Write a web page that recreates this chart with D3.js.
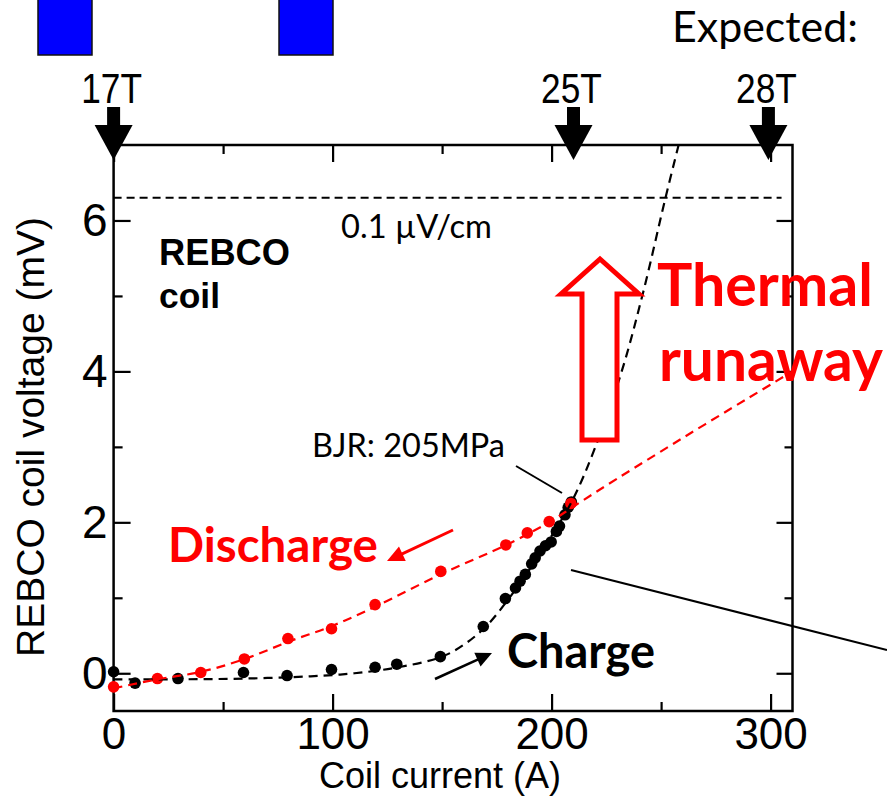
<!DOCTYPE html>
<html>
<head>
<meta charset="utf-8">
<script src="https://cdn.jsdelivr.net/npm/d3@7"></script>
<style>
  html, body { margin: 0; padding: 0; background: #fff; }
  svg { display: block; }
</style>
</head>
<body>
<svg id="chart" width="887" height="797"></svg>
<script>
// ---------------- DATA ----------------
const xMajorTicks = [0, 100, 200, 300];
const xMinorTicks = [50, 150, 250];
const yMajorTicks = [0, 2, 4, 6];
const yMinorTicks = [1, 3, 5];

// Charge (black) measured points
const chargeCurrent = [0, 9.8, 29.4, 59.3, 79.2, 99.5, 119.4, 129.3, 149.2, 168.8, 178.9, 183.5, 185.6, 188.0, 190.9, 192.5, 194.7, 197.2, 199.8, 202.2, 203.6, 206.1, 207.6, 209.0];
const chargeVoltage = [0.02, -0.13, -0.07, 0.01, -0.03, 0.05, 0.08, 0.12, 0.22, 0.62, 0.99, 1.13, 1.22, 1.31, 1.45, 1.53, 1.62, 1.69, 1.74, 1.88, 1.95, 2.10, 2.20, 2.27];

// Discharge (red) measured points
const dischargeCurrent = [0, 20, 39.8, 59.7, 79.6, 99.5, 119.4, 149.4, 179.1, 188.9, 198.9, 208.8];
const dischargeVoltage = [-0.18, -0.07, 0.01, 0.19, 0.46, 0.59, 0.91, 1.35, 1.70, 1.86, 2.01, 2.25];

// Dashed fit curves
const chargeFitCurrent = [0, 30, 60, 90, 110, 130, 150, 160, 170, 180, 190, 200, 210, 220, 232, 242, 252, 258];
const chargeFitVoltage = [-0.08, -0.08, -0.07, -0.04, 0.0, 0.08, 0.22, 0.38, 0.62, 0.97, 1.38, 1.82, 2.32, 3.0, 4.0, 5.07, 6.3, 7.0];
const dischargeFitCurrent = [0, 20, 40, 60, 80, 100, 120, 150, 180, 200, 210, 230, 260, 290, 310];
const dischargeFitVoltage = [-0.2, -0.08, 0.02, 0.19, 0.42, 0.63, 0.89, 1.32, 1.71, 2.02, 2.21, 2.58, 3.12, 3.65, 4.0];

// Criterion line
const criterionVoltage = 6.3;
const criterionRange = [0, 305];

// Field markers on top axis
const fieldLabels = ["17T", "25T", "28T"];
const fieldCurrents = [0, 210, 299];

// ---------------- LAYOUT ----------------
const svg = d3.select("#chart");
const W = 887, H = 797;
const plot = {left: 113.6, right: 792.5, top: 145, bottom: 711};

svg.append("rect").attr("width", W).attr("height", H).attr("fill", "#fff");

const x = d3.scaleLinear().domain([0, 310]).range([plot.left, plot.right]);
const y = d3.scaleLinear().domain([-0.5, 7]).range([plot.bottom, plot.top]);

const ARIAL = "'Liberation Sans', Arial, Helvetica, sans-serif";
const CAL = "Lato, 'Open Sans', sans-serif";

// Clip
svg.append("defs").append("clipPath").attr("id", "plotclip")
  .append("rect").attr("x", plot.left).attr("y", plot.top)
  .attr("width", plot.right - plot.left).attr("height", plot.bottom - plot.top);

// Blue blocks at top (partial figure above)
[38, 279].forEach(bx => {
  svg.append("rect").attr("x", bx).attr("y", -3).attr("width", 54).attr("height", 58)
    .attr("fill", "#0000FF").attr("stroke", "#111").attr("stroke-width", 1.5);
});

// ---------------- AXES ----------------
function styleAxis(g, fontSize) {
  g.select(".domain").remove();
  g.selectAll(".tick line").attr("stroke", "#000").attr("stroke-width", 2.2);
  g.selectAll(".tick text").attr("font-family", ARIAL).attr("font-size", fontSize).attr("fill", "#000");
}

// bottom major
svg.append("g").attr("transform", `translate(0,${plot.bottom})`)
  .call(d3.axisBottom(x).tickValues(xMajorTicks).tickSizeInner(-17).tickSizeOuter(0).tickPadding(7).tickFormat(d3.format("d")))
  .call(g => styleAxis(g, 44));
svg.append("g").attr("transform", `translate(0,${plot.bottom})`)
  .call(d3.axisBottom(x).tickValues(xMinorTicks).tickSizeInner(-9).tickSizeOuter(0).tickFormat(""))
  .call(g => styleAxis(g, 10));
// top
svg.append("g").attr("transform", `translate(0,${plot.top})`)
  .call(d3.axisTop(x).tickValues(xMajorTicks).tickSizeInner(-17).tickSizeOuter(0).tickFormat(""))
  .call(g => styleAxis(g, 10));
svg.append("g").attr("transform", `translate(0,${plot.top})`)
  .call(d3.axisTop(x).tickValues(xMinorTicks).tickSizeInner(-9).tickSizeOuter(0).tickFormat(""))
  .call(g => styleAxis(g, 10));
// left
svg.append("g").attr("transform", `translate(${plot.left},0)`)
  .call(d3.axisLeft(y).tickValues(yMajorTicks).tickSizeInner(-17).tickSizeOuter(0).tickPadding(6).tickFormat(d3.format("d")))
  .call(g => styleAxis(g, 46));
svg.append("g").attr("transform", `translate(${plot.left},0)`)
  .call(d3.axisLeft(y).tickValues(yMinorTicks).tickSizeInner(-9).tickSizeOuter(0).tickFormat(""))
  .call(g => styleAxis(g, 10));
// right
svg.append("g").attr("transform", `translate(${plot.right},0)`)
  .call(d3.axisRight(y).tickValues(yMajorTicks).tickSizeInner(-16).tickSizeOuter(0).tickFormat(""))
  .call(g => styleAxis(g, 10));
svg.append("g").attr("transform", `translate(${plot.right},0)`)
  .call(d3.axisRight(y).tickValues(yMinorTicks).tickSizeInner(-8).tickSizeOuter(0).tickFormat(""))
  .call(g => styleAxis(g, 10));

// frame
svg.append("rect").attr("x", plot.left).attr("y", plot.top)
  .attr("width", plot.right - plot.left).attr("height", plot.bottom - plot.top)
  .attr("fill", "none").attr("stroke", "#000").attr("stroke-width", 2.5);

// axis titles
svg.append("text").attr("x", 440).attr("y", 788).attr("text-anchor", "middle")
  .attr("font-family", ARIAL).attr("font-size", 36).text("Coil current (A)");
svg.append("text").attr("transform", "translate(44,437) rotate(-90)").attr("text-anchor", "middle")
  .attr("font-family", ARIAL).attr("font-size", 39).text("REBCO coil voltage (mV)");

// ---------------- CRITERION LINE ----------------
svg.append("line")
  .attr("x1", x(criterionRange[0])).attr("x2", x(criterionRange[1]))
  .attr("y1", y(criterionVoltage)).attr("y2", y(criterionVoltage))
  .attr("stroke", "#000").attr("stroke-width", 2).attr("stroke-dasharray", "8,5");

// ---------------- POINTS ----------------
const chargePts = chargeCurrent.map((c, i) => [c, chargeVoltage[i]]);
const dischargePts = dischargeCurrent.map((c, i) => [c, dischargeVoltage[i]]);
const chargeFit = chargeFitCurrent.map((c, i) => [c, chargeFitVoltage[i]]);
const dischargeFit = dischargeFitCurrent.map((c, i) => [c, dischargeFitVoltage[i]]);

svg.append("g").selectAll("circle").data(chargePts).join("circle")
  .attr("cx", d => x(d[0])).attr("cy", d => y(d[1])).attr("r", 5.8).attr("fill", "#000");
svg.append("g").selectAll("circle").data(dischargePts).join("circle")
  .attr("cx", d => x(d[0])).attr("cy", d => y(d[1])).attr("r", 5.8).attr("fill", "#FF0000");

const line = d3.line().x(d => x(d[0])).y(d => y(d[1])).curve(d3.curveCatmullRom.alpha(0.5));
const fits = svg.append("g").attr("clip-path", "url(#plotclip)");
fits.append("path").attr("d", line(chargeFit)).attr("fill", "none")
  .attr("stroke", "#000").attr("stroke-width", 2.2).attr("stroke-dasharray", "9,6");
fits.append("path").attr("d", line(dischargeFit)).attr("fill", "none")
  .attr("stroke", "#FF0000").attr("stroke-width", 2.2).attr("stroke-dasharray", "9,6");

// ---------------- FIELD MARKERS ----------------
fieldCurrents.forEach((c, i) => {
  const cx = x(c);
  svg.append("rect").attr("x", cx - 6.5).attr("y", 107).attr("width", 13).attr("height", 20).attr("fill", "#000");
  svg.append("path").attr("d", `M${cx - 19},125 L${cx + 19},125 L${cx},160 Z`).attr("fill", "#000");
  svg.append("text").attr("transform", `translate(${cx - 2},103) scale(0.82,1)`).attr("text-anchor", "middle")
    .attr("font-family", ARIAL).attr("font-size", 43).text(fieldLabels[i]);
});

// ---------------- ANNOTATIONS ----------------
function fitWidth(t, w) {
  const l = t.node().getComputedTextLength();
  const fs = parseFloat(t.attr("font-size"));
  t.attr("font-size", fs * w / l);
  return t;
}
function txt(str, tx, ty, opts) {
  const t = svg.append("text").attr("x", tx).attr("y", ty)
    .attr("font-family", opts.font).attr("font-size", opts.size)
    .attr("font-weight", opts.weight || "normal").attr("fill", opts.color || "#000").text(str);
  if (opts.width) fitWidth(t, opts.width);
  return t;
}

txt("Expected:", 672, 42, {font: CAL, size: 38, width: 186});
txt("0.1 \u00B5V/cm", 341, 238, {font: CAL, size: 34, width: 151});
txt("REBCO", 159, 265, {font: ARIAL, size: 36, weight: "bold", width: 131});
txt("coil", 159, 308, {font: ARIAL, size: 36, weight: "bold", width: 61});
txt("BJR: 205MPa", 312, 457, {font: CAL, size: 34, width: 193});
txt("Thermal", 657, 306, {font: CAL, size: 58, weight: "bold", color: "#FF0000", width: 216});
txt("runaway", 659, 381, {font: CAL, size: 58, weight: "bold", color: "#FF0000", width: 224});
txt("Discharge", 168, 562, {font: CAL, size: 47, weight: "bold", color: "#FF0000", width: 210});
txt("Charge", 507, 668, {font: CAL, size: 47, weight: "bold", width: 148});

// red hollow arrow
svg.append("path")
  .attr("d", "M600,259 L561,294 L582,294 L582,440 L617,440 L617,294 L639,294 Z")
  .attr("fill", "#fff").attr("stroke", "#FF0000").attr("stroke-width", 5).attr("stroke-linejoin", "miter");

// leader lines
svg.append("line").attr("x1", 516).attr("y1", 466).attr("x2", 562).attr("y2", 493)
  .attr("stroke", "#000").attr("stroke-width", 2);
svg.append("line").attr("x1", 571).attr("y1", 570).attr("x2", 887).attr("y2", 650)
  .attr("stroke", "#000").attr("stroke-width", 2);

function arrow(x1, y1, x2, y2, color, sw, hl, hw) {
  const dx = x2 - x1, dy = y2 - y1, L = Math.hypot(dx, dy);
  const ux = dx / L, uy = dy / L;
  const bx = x2 - ux * hl, by = y2 - uy * hl;
  svg.append("line").attr("x1", x1).attr("y1", y1).attr("x2", bx + ux * 2).attr("y2", by + uy * 2)
    .attr("stroke", color).attr("stroke-width", sw);
  svg.append("path").attr("d", `M${x2},${y2} L${bx - uy * hw},${by + ux * hw} L${bx + uy * hw},${by - ux * hw} Z`)
    .attr("fill", color);
}
arrow(453, 530, 387, 561, "#FF0000", 3, 17, 8);
arrow(435, 679, 492, 653, "#000", 2.5, 16, 7.5);
</script>
</body>
</html>
